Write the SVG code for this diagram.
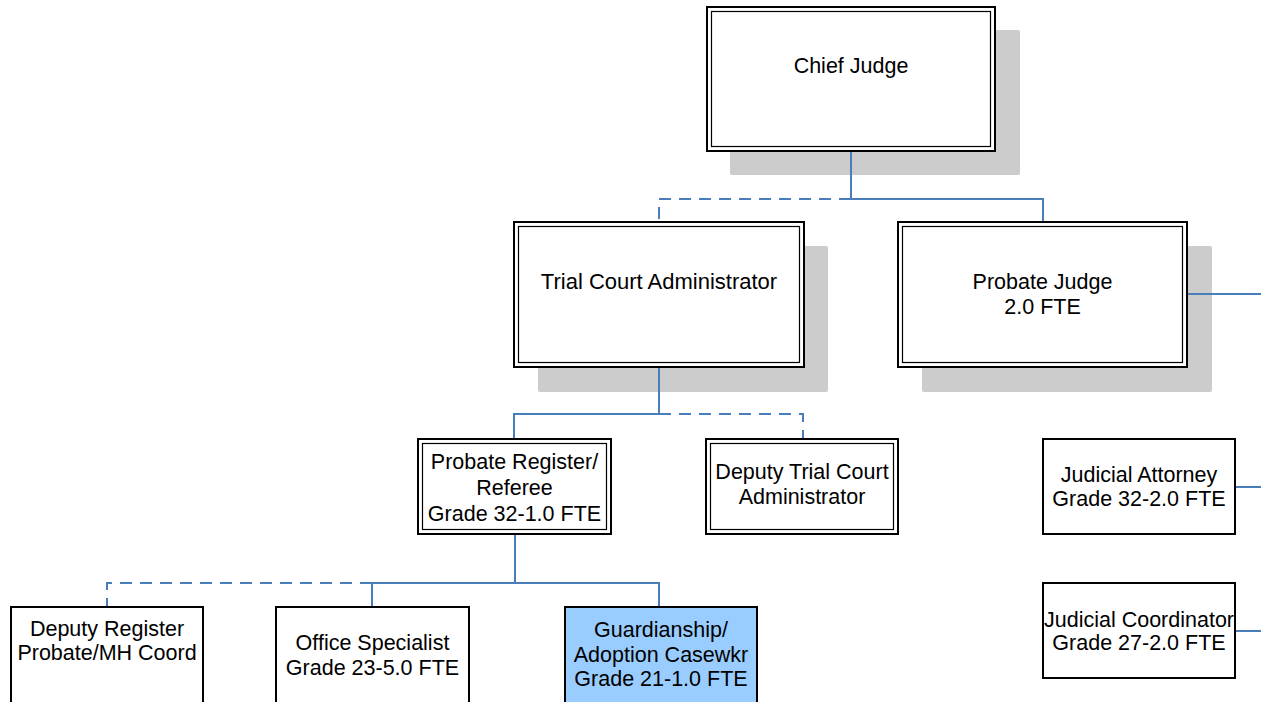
<svg xmlns="http://www.w3.org/2000/svg" width="1261" height="702" viewBox="0 0 1261 702">
<style>
.shadow{fill:#cccccc}
.outer{fill:#ffffff;stroke:#000000;stroke-width:2}
.inner{fill:none;stroke:#000000;stroke-width:1.2}
.single{fill:#ffffff;stroke:#000000;stroke-width:2}
.blue{fill:#99ccff;stroke:#000000;stroke-width:2}
.lbl{font-family:"Liberation Sans",Arial,sans-serif;font-size:21.5px;fill:#000000;text-anchor:middle}
.big{font-size:22px}
.conn{fill:none;stroke:#4a7ebb;stroke-width:2}
.dash{fill:none;stroke:#4a7ebb;stroke-width:2;stroke-dasharray:12 8}
</style>
<rect width="1261" height="702" fill="#ffffff"/>
<g id="chief-judge">
<rect class="shadow" x="730" y="30" width="290" height="145" rx="2"/>
<rect class="outer" x="707" y="7" width="288" height="144"/>
<rect class="inner" x="711.5" y="11.5" width="279" height="135"/>
<text class="lbl" x="851" y="73">Chief Judge</text>
</g>
<g id="trial-court-administrator">
<rect class="shadow" x="538" y="246" width="290" height="146" rx="2"/>
<rect class="outer" x="514" y="222" width="290" height="145"/>
<rect class="inner" x="518.5" y="226.5" width="281" height="136"/>
<text class="lbl big" x="659" y="289">Trial Court Administrator</text>
</g>
<g id="probate-judge">
<rect class="shadow" x="922" y="246" width="290" height="146" rx="2"/>
<rect class="outer" x="898" y="222" width="289" height="145"/>
<rect class="inner" x="902.5" y="226.5" width="280" height="136"/>
<text class="lbl" x="1042.5" y="289">Probate Judge</text>
<text class="lbl" x="1042.5" y="314">2.0 FTE</text>
</g>
<g id="probate-register">
<rect class="outer" x="418" y="439" width="193" height="95"/>
<rect class="inner" x="422.5" y="443.5" width="184" height="86"/>
<text class="lbl" x="514.5" y="469">Probate Register/</text>
<text class="lbl" x="514.5" y="495">Referee</text>
<text class="lbl" x="514.5" y="521">Grade 32-1.0 FTE</text>
</g>
<g id="deputy-trial-court-administrator">
<rect class="outer" x="706" y="439" width="192" height="95"/>
<rect class="inner" x="710.5" y="443.5" width="183" height="86"/>
<text class="lbl" x="802" y="479">Deputy Trial Court</text>
<text class="lbl" x="802" y="504">Administrator</text>
</g>
<g id="judicial-attorney">
<rect class="single" x="1043" y="439" width="192" height="95"/>
<text class="lbl" x="1139" y="482">Judicial Attorney</text>
<text class="lbl" x="1139" y="506">Grade 32-2.0 FTE</text>
</g>
<g id="judicial-coordinator">
<rect class="single" x="1043" y="583" width="192" height="95"/>
<text class="lbl" x="1139" y="627">Judicial Coordinator</text>
<text class="lbl" x="1139" y="650">Grade 27-2.0 FTE</text>
</g>
<g id="deputy-register">
<rect class="single" x="11" y="607" width="192" height="120"/>
<text class="lbl" x="107" y="636">Deputy Register</text>
<text class="lbl" x="107" y="660">Probate/MH Coord</text>
</g>
<g id="office-specialist">
<rect class="single" x="276" y="607" width="193" height="120"/>
<text class="lbl" x="372.5" y="650">Office Specialist</text>
<text class="lbl" x="372.5" y="675">Grade 23-5.0 FTE</text>
</g>
<g id="guardianship-adoption-casewkr">
<rect class="blue" x="565" y="607" width="192" height="120"/>
<text class="lbl" x="661" y="637">Guardianship/</text>
<text class="lbl" x="661" y="662">Adoption Casewkr</text>
<text class="lbl" x="661" y="686">Grade 21-1.0 FTE</text>
</g>
<g id="connectors">
<path class="conn" d="M851 152V199H1043V221"/>
<path class="dash" d="M851 199H659V221"/>
<path class="conn" d="M659 368V414H514V438"/>
<path class="dash" d="M659 414H803V438"/>
<path class="conn" d="M515 535V583H659V606"/>
<path class="conn" d="M515 583H372V606"/>
<path class="dash" d="M372 583H107V606"/>
<path class="conn" d="M1188 294H1262"/>
<path class="conn" d="M1236 487H1262"/>
<path class="conn" d="M1236 631H1262"/>
</g>
</svg>
